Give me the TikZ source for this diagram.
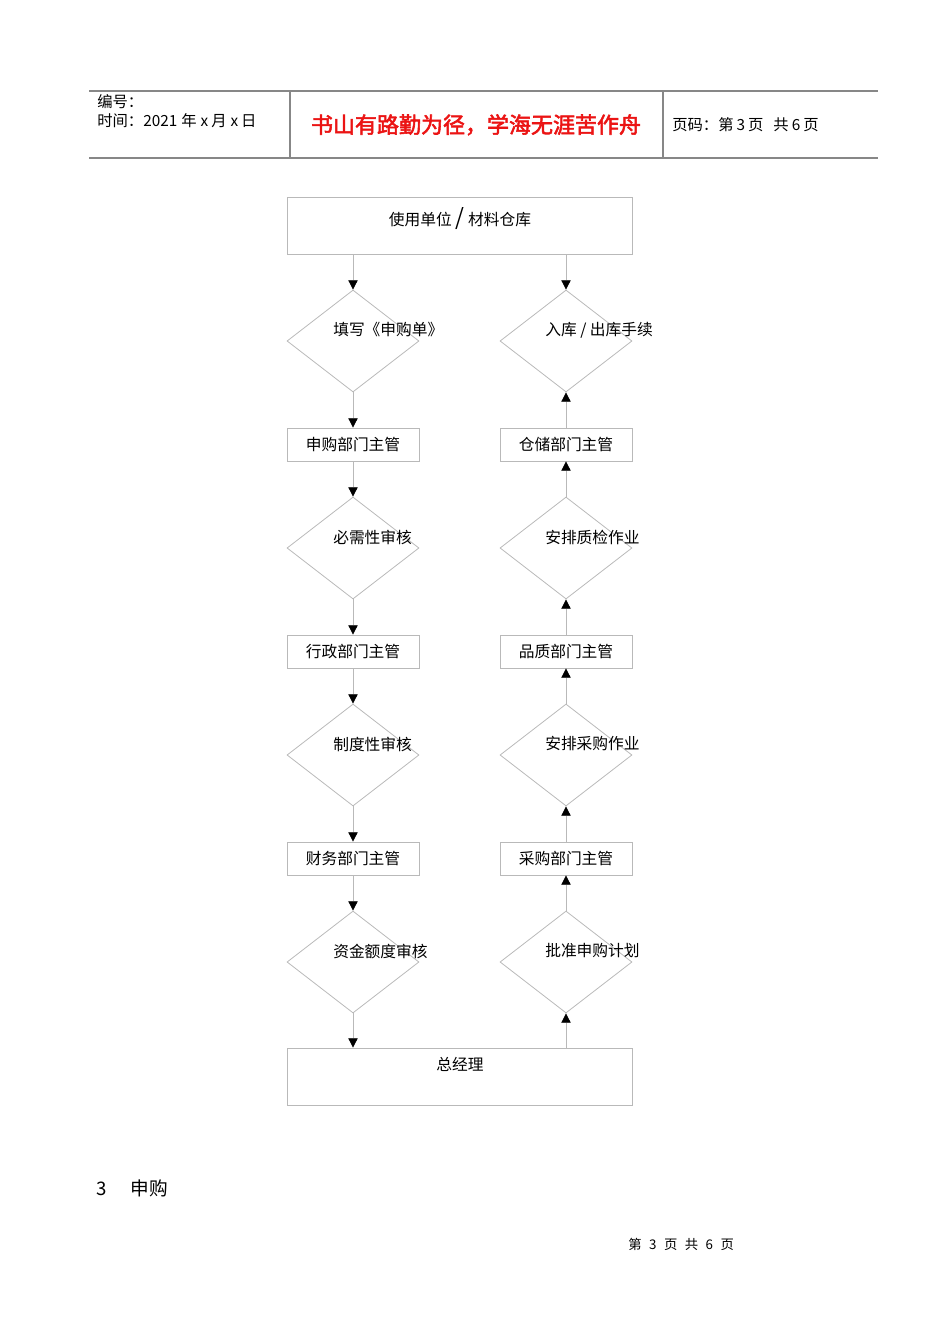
\documentclass[tikz,border=0pt]{standalone}
\usepackage{fontspec}
\setmainfont{Noto Sans CJK SC}
\newfontfamily\cjkbold[AutoFakeBold=2.5]{Noto Sans CJK SC}
\usetikzlibrary{shapes.geometric,arrows.meta,positioning}

\newdimen\pxu \pxu=0.75pt
\definecolor{linegray}{RGB}{185,185,185}
\definecolor{rulegray}{RGB}{135,135,135}
\definecolor{mottored}{RGB}{235,20,20}

\tikzset{
  rule/.style={draw=rulegray, line width=1.3pt},
  head/.style={inner sep=0pt, font=\fontsize{11.5}{13}\selectfont},
  box/.style={draw=linegray, line width=0.6pt, minimum width=132\pxu, minimum height=33\pxu,
    inner sep=0pt, font=\fontsize{11.8}{14}\selectfont},
  widebox/.style={draw=linegray, line width=0.6pt, minimum width=345\pxu, minimum height=57\pxu, inner sep=0pt},
  check/.style={draw=linegray, line width=0.6pt, shape=diamond, inner sep=0pt,
    minimum width=132\pxu, minimum height=102\pxu},
  dtext/.style={inner sep=0pt, anchor=west, font=\fontsize{11.8}{14}\selectfont},
  flow/.style={draw=linegray, line width=0.6pt, -{Triangle[length=7pt,width=7pt,color=black]}}
}

\begin{document}
\begin{tikzpicture}[x=0.75pt,y=-0.75pt]
\useasboundingbox (0,0) rectangle (950,1344);
% page header
\draw[rule] (89,91) -- (878,91);
\draw[rule] (89,158) -- (878,158);
\draw[rule] (290,91) -- (290,158);
\draw[rule] (663,91) -- (663,158);
\node[head, anchor=base west] (bianhao) at (97,108) {编号：};
\node[head, anchor=base west] (shijian) at (97,127) {时间：2021\hspace{4\pxu}年\hspace{4\pxu}x\hspace{3\pxu}月\hspace{4\pxu}x\hspace{3\pxu}日};
\node[inner sep=0pt, anchor=base, text=mottored, font=\cjkbold\bfseries\fontsize{16.5}{18}\selectfont] (motto) at (476,133) {书山有路勤为径，学海无涯苦作舟};
\node[head, anchor=base west] (yema) at (672,131) {页码：第\hspace{3\pxu}3\hspace{3\pxu}页\hspace{10\pxu}共\hspace{3\pxu}6\hspace{3\pxu}页};

% top and bottom boxes
\node[widebox] (unit) at (459.5,225.5) {};
\node[dtext, anchor=center] (unittxt) at (460,219) {使用单位{\fontsize{17}{17}\selectfont\,/\,}材料仓库};
\node[widebox] (gm) at (459.5,1076.5) {};
\node[dtext, anchor=center] (gmtxt) at (460,1064) {总经理};

% left column: application
\node[check] (fill) at (353,341) {};
\node[box] (sqbm) at (353,444.5) {申购部门主管};
\node[check] (need) at (353,548) {};
\node[box] (xzbm) at (353,651.5) {行政部门主管};
\node[check] (rule) at (353,755) {};
\node[box] (cwbm) at (353,858.5) {财务部门主管};
\node[check] (fund) at (353,962) {};
\node[dtext] (filltxt) at ([xshift=-20\pxu,yshift=11\pxu]fill.center) {填写《申购单》};
\node[dtext] (needtxt) at ([xshift=-20\pxu,yshift=11\pxu]need.center) {必需性审核};
\node[dtext] (ruletxt) at ([xshift=-20\pxu,yshift=11\pxu]rule.center) {制度性审核};
\node[dtext] (fundtxt) at ([xshift=-20\pxu,yshift=11\pxu]fund.center) {资金额度审核};

% right column: purchase
\node[check] (store) at (566,341) {};
\node[box] (ccbm) at (566,444.5) {仓储部门主管};
\node[check] (qc) at (566,548) {};
\node[box] (pzbm) at (566,651.5) {品质部门主管};
\node[check] (buy) at (566,755) {};
\node[box] (cgbm) at (566,858.5) {采购部门主管};
\node[check] (plan) at (566,962) {};
\node[dtext] (storetxt) at ([xshift=-21\pxu,yshift=11\pxu]store.center) {入库 / 出库手续};
\node[dtext] (qctxt) at ([xshift=-21\pxu,yshift=11\pxu]qc.center) {安排质检作业};
\node[dtext] (buytxt) at ([xshift=-21\pxu,yshift=11\pxu]buy.center) {安排采购作业};
\node[dtext] (plantxt) at ([xshift=-21\pxu,yshift=11\pxu]plan.center) {批准申购计划};

% connectors
\draw[flow] (unit.south -| fill.north) -- (fill.north);
\draw[flow] (fill.south) -- (sqbm.north);
\draw[flow] (sqbm.south) -- (need.north);
\draw[flow] (need.south) -- (xzbm.north);
\draw[flow] (xzbm.south) -- (rule.north);
\draw[flow] (rule.south) -- (cwbm.north);
\draw[flow] (cwbm.south) -- (fund.north);
\draw[flow] (fund.south) -- (gm.north -| fund.south);
\draw[flow] (gm.north -| plan.south) -- (plan.south);
\draw[flow] (plan.north) -- (cgbm.south);
\draw[flow] (cgbm.north) -- (buy.south);
\draw[flow] (buy.north) -- (pzbm.south);
\draw[flow] (pzbm.north) -- (qc.south);
\draw[flow] (qc.north) -- (ccbm.south);
\draw[flow] (ccbm.north) -- (store.south);
\draw[flow] (unit.south -| store.north) -- (store.north);

% body text and footer
\node[inner sep=0pt, anchor=base west, font=\fontsize{14}{16}\selectfont] (sec) at (96,1195) {3\hspace{24\pxu}申购};
\node[inner sep=0pt, anchor=base west, font=\fontsize{10}{12}\selectfont] (footer) at (628,1249) {第\hspace{7.5\pxu}3\hspace{7.5\pxu}页\hspace{7.5\pxu}共\hspace{7.5\pxu}6\hspace{7.5\pxu}页};
\end{tikzpicture}
\end{document}
